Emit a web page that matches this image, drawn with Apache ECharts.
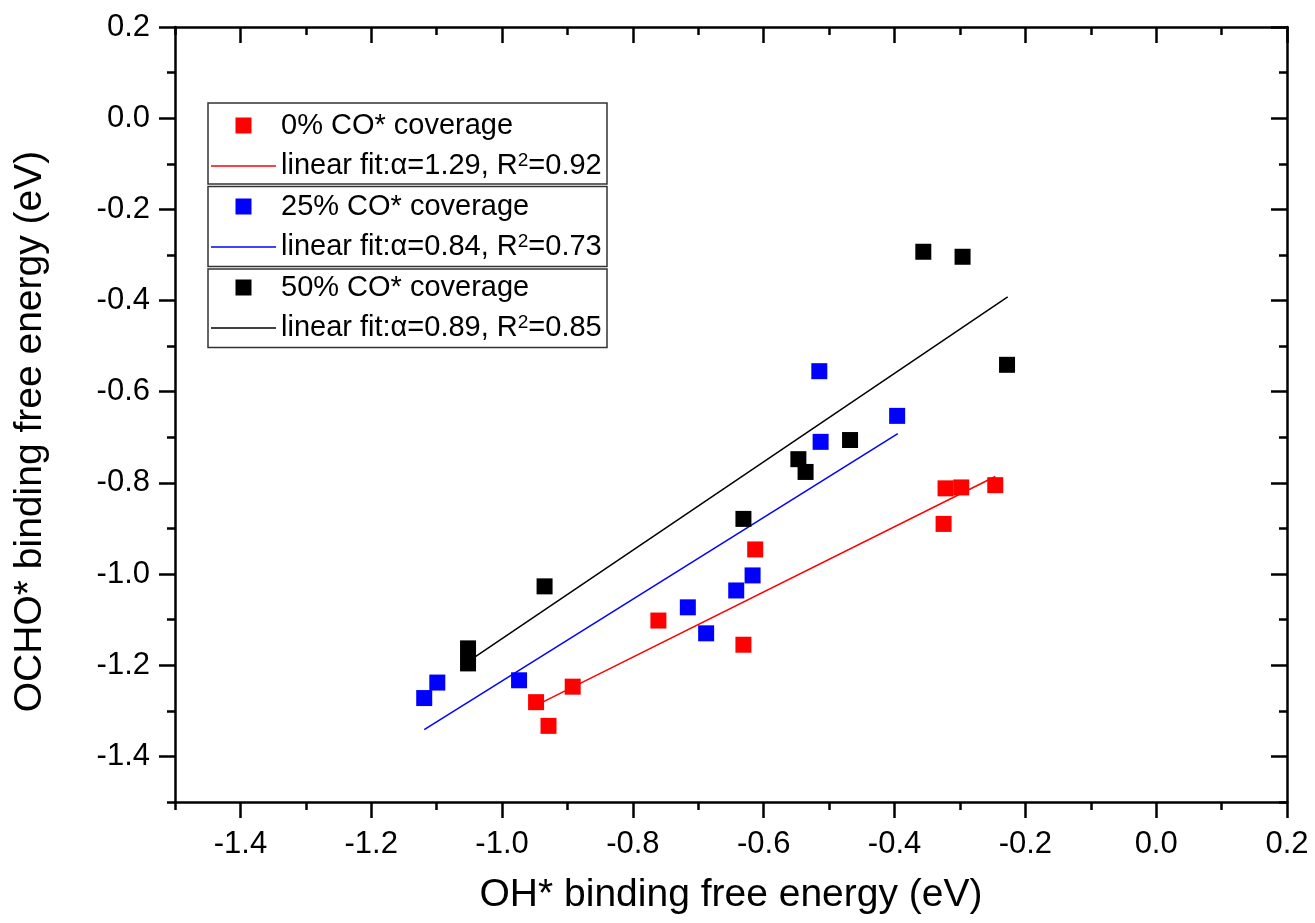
<!DOCTYPE html>
<html>
<head>
<meta charset="utf-8">
<script src="https://cdn.jsdelivr.net/npm/echarts@6/dist/echarts.min.js"></script>
<style>
html,body{margin:0;padding:0;background:#fff;}
#chart{width:1315px;height:923px;}
</style>
</head>
<body>
<div id="chart"></div>
<script>
// ---- data ----
const xTickLabels = ['-1.4','-1.2','-1.0','-0.8','-0.6','-0.4','-0.2','0.0','0.2'];
const yTickLabels = ['0.2','0.0','-0.2','-0.4','-0.6','-0.8','-1.0','-1.2','-1.4'];

const seriesNames = ['0% CO* coverage','25% CO* coverage','50% CO* coverage'];
const fitNames = ['linear fit:\u03b1=1.29, R2=0.92','linear fit:\u03b1=0.84, R2=0.73','linear fit:\u03b1=0.89, R2=0.85'];

const cov0 = [[-0.948,-1.281],[-0.929,-1.333],[-0.892,-1.247],[-0.761,-1.102],[-0.631,-1.155],
              [-0.613,-0.946],[-0.325,-0.890],[-0.322,-0.812],[-0.298,-0.810],[-0.246,-0.805]];
const cov25 = [[-1.119,-1.272],[-1.099,-1.238],[-0.974,-1.233],[-0.716,-1.073],[-0.688,-1.130],
               [-0.642,-1.036],[-0.617,-1.003],[-0.513,-0.710],[-0.515,-0.555],[-0.396,-0.653]];
const cov50 = [[-1.052,-1.163],[-1.052,-1.196],[-0.935,-1.027],[-0.631,-0.879],[-0.547,-0.748],
               [-0.536,-0.776],[-0.468,-0.706],[-0.356,-0.293],[-0.296,-0.304],[-0.228,-0.541]];

const fit0 = [[-0.948,-1.288],[-0.246,-0.786]];
const fit25 = [[-1.119,-1.341],[-0.395,-0.692]];
const fit50 = [[-1.052,-1.192],[-0.227,-0.392]];

const colors = ['#ff0000','#0000ff','#000000'];

// ---- layout ----
const W = 1315, H = 923;
const G = {left:175, right:28, top:27, bottom:121};
const xMin = -1.5, xMax = 0.2, yMin = -1.5, yMax = 0.2;
const majorStart = -1.4, majorStep = 0.2, minorStep = 0.1;
const plotW = W - G.left - G.right, plotH = H - G.top - G.bottom;
const offX = plotW * (majorStart - xMin) / (xMax - xMin);
const offY = plotH * (majorStart - yMin) / (yMax - yMin);

const FONT = 'Liberation Sans, Arial, Helvetica, sans-serif';
function fmt(list){
  return function(v){
    const s = (Math.abs(v) < 1e-9 ? 0 : v).toFixed(1);
    return list.indexOf(s) >= 0 ? s : '';
  };
}
const AX = {color:'#000', width:2.5};
function minorAxis(grid, pos, inside, extra){
  return Object.assign({
    type:'value', gridIndex:grid, min:xMin, max:xMax, interval:minorStep, position:pos,
    axisLine:{show:true, onZero:false, lineStyle:AX},
    axisTick:{show:true, inside:inside, length:8, lineStyle:AX},
    axisLabel:{show:false}, splitLine:{show:false}
  }, extra || {});
}
function majorAxis(grid, pos, inside, offset, extra){
  return Object.assign({
    type:'value', gridIndex:grid, min:majorStart, max:xMax, interval:majorStep, position:pos, offset:offset,
    axisLine:{show:false, onZero:false},
    axisTick:{show:true, inside:inside, length:16, lineStyle:AX},
    axisLabel:{show:false}, splitLine:{show:false}
  }, extra || {});
}

const chart = echarts.init(document.getElementById('chart'), null, {renderer:'canvas'});
const scatterSeries = [cov0, cov25, cov50].map((d,i)=>({
  name: seriesNames[i], type:'scatter', data:d, symbol:'rect', symbolSize:16,
  itemStyle:{color:colors[i], opacity:1}, z:5, xAxisIndex:0, yAxisIndex:0
}));
const fitSeries = [fit0, fit25, fit50].map((d,i)=>({
  name: fitNames[i], type:'line', data:d, symbol:'none', showSymbol:false,
  lineStyle:{color:colors[i], width:1.5}, itemStyle:{color:colors[i]}, z:3, xAxisIndex:0, yAxisIndex:0
}));

const legendData = [];
for (let i=0;i<3;i++){
  legendData.push({name:seriesNames[i], icon:'path://M0,0H10V10H0Z'});
  legendData.push({name:fitNames[i], icon:'path://M0,0H65V1.4H0Z'});
}

chart.setOption({
  animation:false,
  backgroundColor:'#fff',
  grid:[
    {left:G.left, right:G.right, top:G.top, bottom:G.bottom, containLabel:false},
    {left:G.left + offX, right:G.right, top:G.top, bottom:G.bottom + offY, containLabel:false}
  ],
  xAxis:[
    minorAxis(0,'bottom',false,{
      name:'OH* binding free energy (eV)', nameLocation:'middle', nameGap:74,
      nameTextStyle:{fontSize:39, color:'#000', fontFamily:FONT}
    }),
    minorAxis(0,'top',true),
    majorAxis(1,'bottom',false,offY,{
      axisLabel:{show:true, formatter:fmt(xTickLabels), fontSize:31, color:'#000', fontFamily:FONT, margin:27}
    }),
    majorAxis(1,'top',true,0)
  ],
  yAxis:[
    minorAxis(0,'left',false,{
      min:yMin, max:yMax,
      name:'OCHO* binding free energy (eV)', nameLocation:'middle', nameGap:125,
      nameTextStyle:{fontSize:39, color:'#000', fontFamily:FONT, padding:[0,34,0,0]}
    }),
    minorAxis(0,'right',true,{min:yMin, max:yMax}),
    majorAxis(1,'left',false,offX,{
      max:yMax,
      axisLabel:{show:true, formatter:fmt(yTickLabels), fontSize:31, color:'#000', fontFamily:FONT, margin:25}
    }),
    majorAxis(1,'right',true,0,{max:yMax})
  ],
  legend:{
    orient:'vertical', left:211, top:111, padding:0, itemWidth:65, itemHeight:16, itemGap:11.5,
    data:legendData, selectedMode:false, symbolKeepAspect:true,
    formatter:function(n){ return n.replace('R2','R{sup|2}'); },
    textStyle:{fontSize:29, lineHeight:29, color:'#000', fontFamily:FONT,
      rich:{sup:{fontSize:19, verticalAlign:'top', lineHeight:29, color:'#000', fontFamily:FONT}}}
  },
  graphic:[
    {type:'rect', shape:{x:208,y:103,width:399,height:81}, style:{fill:'none', stroke:'#333', lineWidth:1.5}, z:1},
    {type:'rect', shape:{x:208,y:186.5,width:399,height:80}, style:{fill:'none', stroke:'#333', lineWidth:1.5}, z:1},
    {type:'rect', shape:{x:208,y:269,width:399,height:78.5}, style:{fill:'none', stroke:'#333', lineWidth:1.5}, z:1}
  ],
  series: fitSeries.concat(scatterSeries)
});
</script>
</body>
</html>
